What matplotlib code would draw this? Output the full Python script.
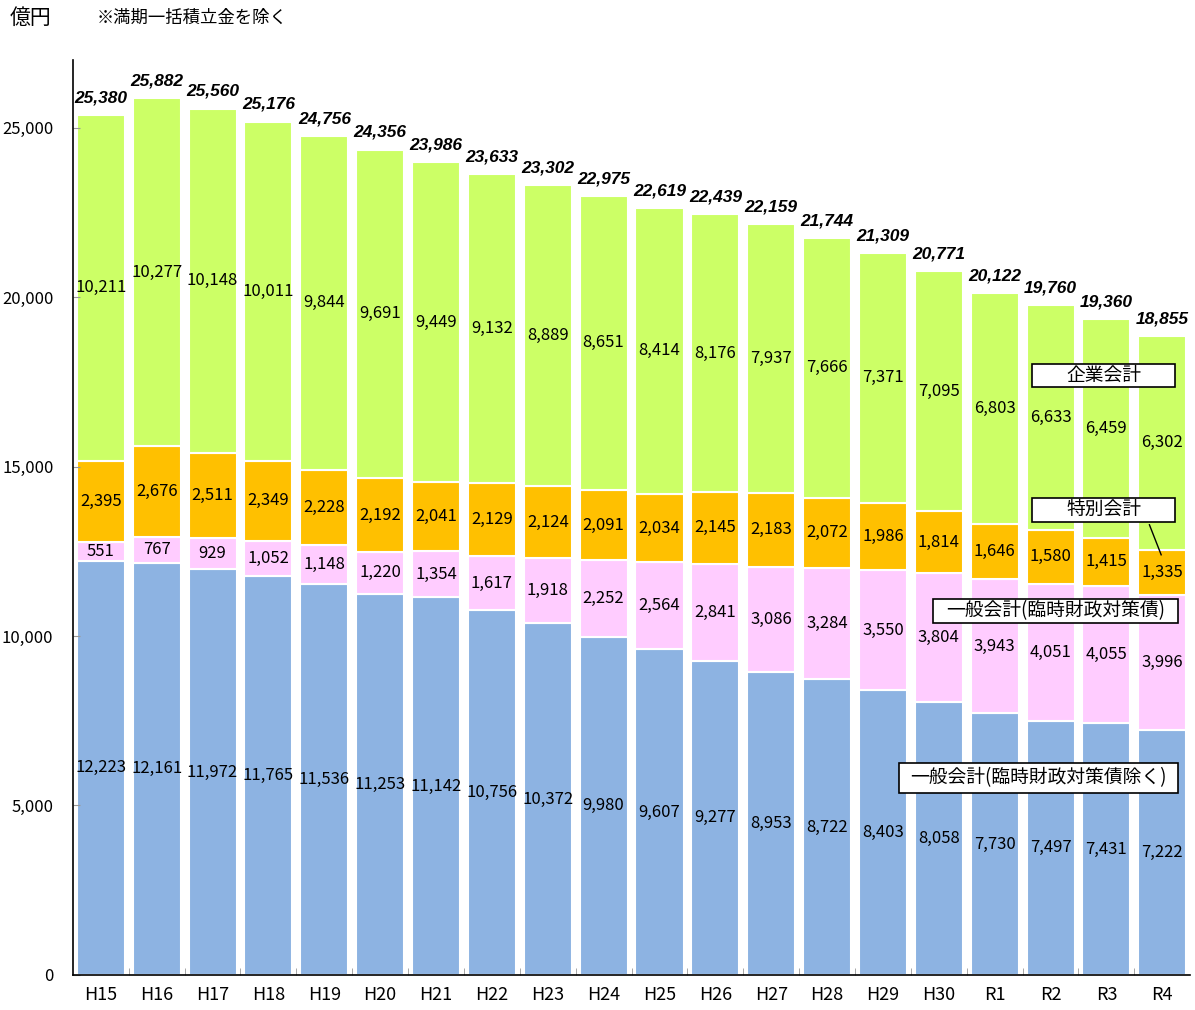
import matplotlib.pyplot as plt
from matplotlib.patches import Rectangle
import numpy as np

plt.rcParams['font.family'] = ['Noto Sans CJK JP', 'DejaVu Sans']

years = ['H15', 'H16', 'H17', 'H18', 'H19', 'H20', 'H21', 'H22', 'H23', 'H24',
         'H25', 'H26', 'H27', 'H28', 'H29', 'H30', 'R1', 'R2', 'R3', 'R4']
general = [12223, 12161, 11972, 11765, 11536, 11253, 11142, 10756, 10372, 9980,
           9607, 9277, 8953, 8722, 8403, 8058, 7730, 7497, 7431, 7222]
rinzai = [551, 767, 929, 1052, 1148, 1220, 1354, 1617, 1918, 2252,
          2564, 2841, 3086, 3284, 3550, 3804, 3943, 4051, 4055, 3996]
special = [2395, 2676, 2511, 2349, 2228, 2192, 2041, 2129, 2124, 2091,
           2034, 2145, 2183, 2072, 1986, 1814, 1646, 1580, 1415, 1335]
enterprise = [10211, 10277, 10148, 10011, 9844, 9691, 9449, 9132, 8889, 8651,
              8414, 8176, 7937, 7666, 7371, 7095, 6803, 6633, 6459, 6302]
totals = [25380, 25882, 25560, 25176, 24756, 24356, 23986, 23633, 23302, 22975,
          22619, 22439, 22159, 21744, 21309, 20771, 20122, 19760, 19360, 18855]

series = [general, rinzai, special, enterprise]
colors = ['#8DB3E2', '#FFCCFF', '#FFC000', '#CCFF66']

fig = plt.figure(figsize=(11.95, 10.1), dpi=100)
ax = fig.add_axes([0.061, 0.0347, 0.935, 0.906])

x = np.arange(len(years))
bottom = np.zeros(len(years))
for vals, c in zip(series, colors):
    vals = np.array(vals)
    ax.bar(x, vals, 0.86, bottom=bottom, color=c, edgecolor='white', linewidth=1.5)
    for xi, b, v in zip(x, bottom, vals):
        ax.text(xi, b + v / 2, f'{v:,}', ha='center', va='center', fontsize=12)
    bottom += vals

for xi, t in zip(x, totals):
    ax.annotate(f'{t:,}', (xi, t), xytext=(0, 7), textcoords='offset points',
                ha='center', va='bottom', fontsize=12.5, fontweight='bold',
                style='italic', family='Liberation Sans')

ax.set_xlim(-0.5, len(years) - 0.5)
ax.set_ylim(0, 27000)
ax.set_yticks(range(0, 25001, 5000))
ax.set_yticklabels([f'{v:,}' for v in range(0, 25001, 5000)], fontsize=12)
ax.set_xticks(x)
ax.set_xticklabels(years, fontsize=13)
ax.set_xticks(np.arange(0.5, len(years) - 1, 1), minor=True)
ax.tick_params(axis='x', which='major', length=0, pad=8)
ax.tick_params(axis='x', which='minor', direction='in', length=5, color='#999999')
ax.tick_params(axis='y', direction='in', length=5, color='#999999', pad=14)
ax.spines['top'].set_visible(False)
ax.spines['right'].set_visible(False)
ax.spines['left'].set_linewidth(1.2)
ax.spines['bottom'].set_linewidth(1.2)

# legend boxes inside the chart
boxes = [('企業会計', 17.95, 17680, 2.56, 680),
         ('特別会計', 17.95, 13725, 2.56, 700),
         ('一般会計（臨時財政対策債）', 17.09, 10744, 4.39, 708),
         ('一般会計（臨時財政対策債除く）', 16.79, 5815, 5.0, 885)]
for label, cx, cy, w, h in boxes:
    ax.add_patch(Rectangle((cx - w / 2, cy - h / 2), w, h, facecolor='white',
                           edgecolor='black', linewidth=1.2, zorder=5))
    ax.text(cx, cy, label.replace('（', '(').replace('）', ')'),
            ha='center', va='center', fontsize=13.5, zorder=6)
ax.plot([18.77, 18.98], [13282, 12397], color='black', lw=1, zorder=5)

fig.text(0.008, 0.982, '億円', fontsize=15, va='center')
fig.text(0.081, 0.982, '※満期一括積立金を除く', fontsize=12.5, va='center')

fig.savefig('out.png', dpi=100)
